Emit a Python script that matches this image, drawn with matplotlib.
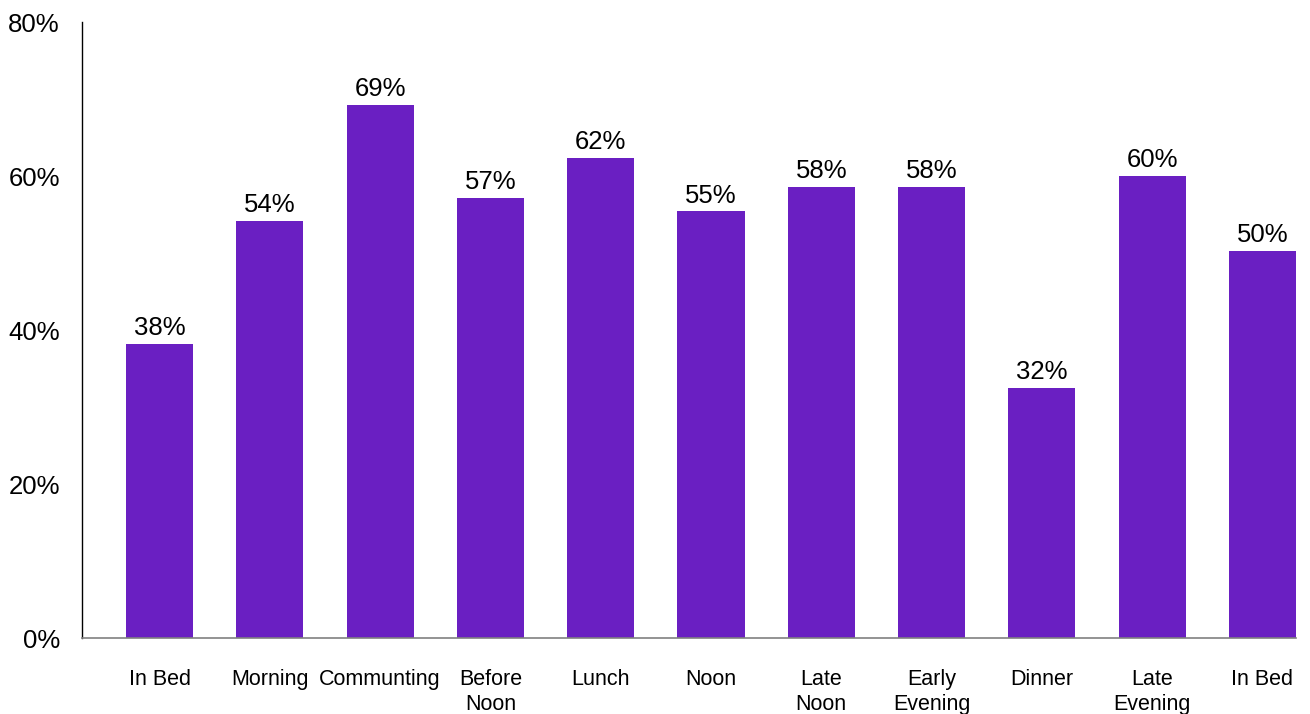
import numpy as np
import matplotlib
matplotlib.use("Agg")
import matplotlib.pyplot as plt

# Data
categories = ["In Bed", "Morning", "Communting", "Before\nNoon", "Lunch", "Noon",
              "Late\nNoon", "Early\nEvening", "Dinner", "Late\nEvening", "In Bed"]
values = [38.2, 54.2, 69.2, 57.1, 62.3, 55.4, 58.6, 58.6, 32.5, 60.0, 50.3]
labels = ["38%", "54%", "69%", "57%", "62%", "55%", "58%", "58%", "32%", "60%", "50%"]
yticks = [0, 20, 40, 60, 80]

plt.rcParams["font.family"] = ["Liberation Sans", "DejaVu Sans"]

fig = plt.figure(figsize=(13.1, 7.14), dpi=100)
ax = fig.add_axes([82 / 1310, (714 - 638) / 714, (1296 - 82) / 1310, (638 - 22) / 714])

x = np.arange(len(categories))
bars = ax.bar(x, values, width=0.608, color="#6A1FC2")

for b, lab in zip(bars, labels):
    ax.text(b.get_x() + b.get_width() / 2, b.get_height() + 0.5, lab,
            ha="center", va="bottom", fontsize=18.5, color="black")

ax.set_xlim(-0.703, 10.304)
ax.set_ylim(0, 80)
ax.set_yticks(yticks)
ax.set_yticklabels([f"{v}%" for v in yticks], fontsize=18.5)
ax.set_xticks(x)
ax.set_xticklabels(categories, fontsize=15.5, linespacing=1.3, va="top")

ax.tick_params(axis="y", length=0, pad=16)
ax.tick_params(axis="x", length=0, pad=22)

ax.spines["top"].set_visible(False)
ax.spines["right"].set_visible(False)
ax.spines["left"].set_color("black")
ax.spines["left"].set_linewidth(1.0)
ax.spines["bottom"].set_color("#808080")
ax.spines["bottom"].set_linewidth(1.2)

fig.savefig("out.png", dpi=100)
